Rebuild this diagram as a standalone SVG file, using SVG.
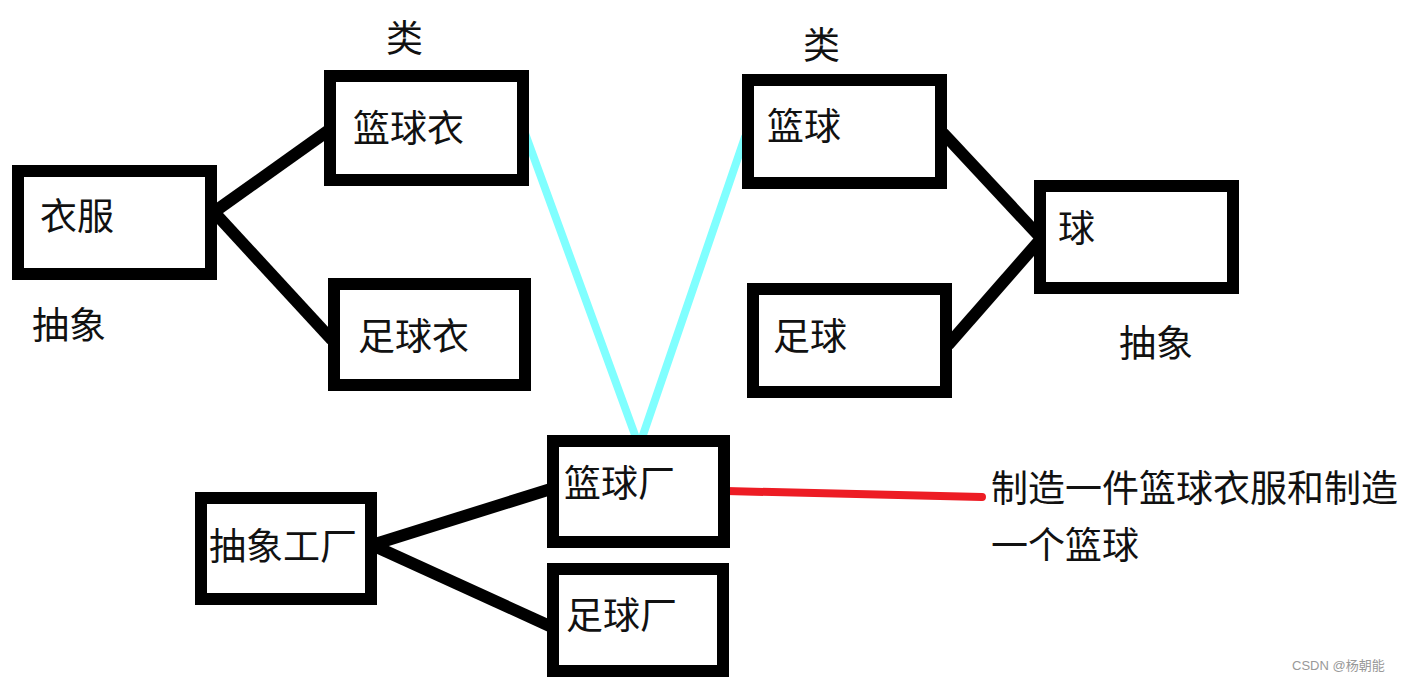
<svg xmlns="http://www.w3.org/2000/svg" width="1407" height="682" viewBox="0 0 1407 682">
<style>
.box{fill:#fff;stroke:#000;stroke-width:12}
.t{font-family:"Noto Sans CJK SC","Noto Sans",sans-serif;font-size:37px;fill:#111}
.b{stroke:#000;stroke-width:12;stroke-linecap:butt;fill:none}
.c{stroke:#80FFFF;stroke-width:8;stroke-linecap:round;fill:none}
.r{stroke:#ED1C24;stroke-width:8;stroke-linecap:round;fill:none}
</style>
<rect width="1407" height="682" fill="#fff"/>
<g id="connectors">
<line class="b" x1="214" y1="212" x2="332" y2="128"/>
<line class="b" x1="214" y1="212" x2="332" y2="340"/>
<line class="b" x1="943" y1="133" x2="1040" y2="237"/>
<line class="b" x1="948" y1="345" x2="1040" y2="240"/>
<line class="b" x1="372" y1="545" x2="554" y2="488"/>
<line class="b" x1="372" y1="545" x2="554" y2="628"/>
<line class="c" x1="522" y1="125" x2="635" y2="435"/>
<line class="c" x1="745" y1="137" x2="643" y2="435"/>
<line class="r" x1="726" y1="491" x2="982" y2="497"/>
</g>
<g id="n-yifu"><rect class="box" x="18" y="171" width="193" height="103"/><text class="t" x="40" y="230">衣服</text></g>
<g id="n-lanqiuyi"><rect class="box" x="330" y="76" width="193" height="104"/><text class="t" x="353" y="142">篮球衣</text></g>
<g id="n-zuqiuyi"><rect class="box" x="334" y="284" width="191" height="101"/><text class="t" x="358" y="350">足球衣</text></g>
<g id="n-lanqiu"><rect class="box" x="748" y="80" width="193" height="103"/><text class="t" x="767" y="140">篮球</text></g>
<g id="n-qiu"><rect class="box" x="1040" y="186" width="193" height="102"/><text class="t" x="1058" y="242">球</text></g>
<g id="n-zuqiu"><rect class="box" x="753" y="289" width="193" height="103"/><text class="t" x="773" y="350">足球</text></g>
<g id="n-lanqiuchang"><rect class="box" x="553" y="441" width="171" height="101"/><text class="t" x="564" y="497">篮球厂</text></g>
<g id="n-zuqiuchang"><rect class="box" x="553" y="569" width="170" height="102"/><text class="t" x="566" y="629">足球厂</text></g>
<g id="n-chouxianggongchang"><rect class="box" x="201" y="498" width="170" height="101"/><text class="t" x="209" y="560">抽象工厂</text></g>
<g id="labels">
<text class="t" x="386" y="52">类</text>
<text class="t" x="803" y="59">类</text>
<text class="t" x="32" y="339">抽象</text>
<text class="t" x="1119" y="357">抽象</text>
<text class="t" x="991" y="502">制造一件篮球衣服和制造</text>
<text class="t" x="991" y="559">一个篮球</text>
<text x="1292" y="670" font-family="Liberation Sans,'Noto Sans CJK SC',sans-serif" font-size="13" fill="#999">CSDN @杨朝能</text>
</g>
</svg>
